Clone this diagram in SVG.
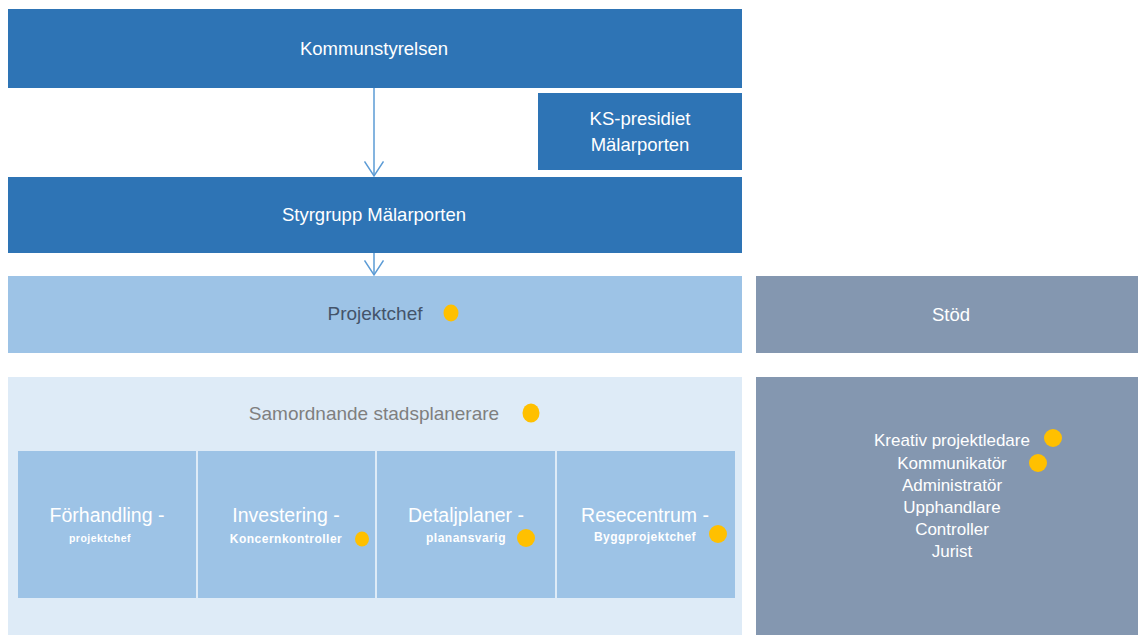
<svg xmlns="http://www.w3.org/2000/svg" width="1138" height="635" viewBox="0 0 1138 635">
<defs>
<style>
.dark{fill:#2E74B5}
.mid{fill:#9DC3E6}
.light{fill:#DEEBF7}
.grey{fill:#8497B0}
.dot{fill:#FFC000}
text{font-family:"Liberation Sans",Arial,sans-serif;text-anchor:middle}
.w{fill:#FFFFFF;font-size:18.5px}
.t{fill:#FFFFFF;font-size:19.5px}
.s{fill:#FFFFFF;font-size:12px;font-weight:bold;letter-spacing:0.5px}
.l{fill:#FFFFFF;font-size:17px}
</style>
<marker id="arr" viewBox="0 0 17 20" refX="15.5" refY="10" markerWidth="17" markerHeight="20" markerUnits="userSpaceOnUse" orient="auto">
<path d="M1,0.5 L15.5,10 L1,19.5" fill="none" stroke="#5B9BD5" stroke-width="1.5"/>
</marker>
</defs>
<rect width="1138" height="635" fill="#FFFFFF"/>
<g id="kommunstyrelsen">
<rect class="dark" x="8" y="9" width="734" height="79"/>
<text class="w" x="374" y="55">Kommunstyrelsen</text>
</g>
<g id="ks-presidiet">
<rect class="dark" x="538" y="93" width="204" height="77"/>
<text class="w" x="640" y="125">KS-presidiet</text>
<text class="w" x="640" y="151">Mälarporten</text>
</g>
<g id="styrgrupp">
<rect class="dark" x="8" y="177" width="734" height="76"/>
<text class="w" x="374" y="221">Styrgrupp Mälarporten</text>
</g>
<g id="projektchef">
<rect class="mid" x="8" y="276" width="734" height="77"/>
<text x="375" y="320" style="fill:#44546A;font-size:19px">Projektchef</text>
<ellipse class="dot" cx="451" cy="313" rx="7.5" ry="8.5"/>
</g>
<g id="stod">
<rect class="grey" x="756" y="276" width="382" height="77"/>
<text class="w" x="951" y="321">Stöd</text>
</g>
<g id="samordnande">
<rect class="light" x="8" y="377" width="734" height="258"/>
<text x="374" y="420" style="fill:#7F7F7F;font-size:19px">Samordnande stadsplanerare</text>
<ellipse class="dot" cx="531" cy="413" rx="8.5" ry="9.5"/>
</g>
<g id="forhandling">
<rect class="mid" x="18" y="451" width="178" height="147"/>
<text class="t" x="107" y="522">Förhandling -</text>
<text class="s" x="100" y="542" style="font-size:10.5px">projektchef</text>
</g>
<g id="investering">
<rect class="mid" x="198" y="451" width="177" height="147"/>
<text class="t" x="286" y="522">Investering -</text>
<text class="s" x="286" y="543">Koncernkontroller</text>
<ellipse class="dot" cx="362" cy="539" rx="7" ry="7.5"/>
</g>
<g id="detaljplaner">
<rect class="mid" x="377" y="451" width="178" height="147"/>
<text class="t" x="466" y="522">Detaljplaner -</text>
<text class="s" x="466" y="542">planansvarig</text>
<circle class="dot" cx="526" cy="538" r="9"/>
</g>
<g id="resecentrum">
<rect class="mid" x="557" y="451" width="178" height="147"/>
<text class="t" x="645" y="522">Resecentrum  -</text>
<text class="s" x="645" y="541">Byggprojektchef</text>
<circle class="dot" cx="718" cy="534" r="9"/>
</g>
<g id="stod-lista">
<rect class="grey" x="756" y="377" width="382" height="258"/>
<text class="l" x="952" y="446">Kreativ projektledare</text>
<text class="l" x="952" y="469">Kommunikatör</text>
<text class="l" x="952" y="491">Administratör</text>
<text class="l" x="952" y="513">Upphandlare</text>
<text class="l" x="952" y="535">Controller</text>
<text class="l" x="952" y="557">Jurist</text>
<circle class="dot" cx="1053" cy="438" r="9"/>
<circle class="dot" cx="1038" cy="463" r="9"/>
</g>
<g id="connectors" fill="none" stroke="#5B9BD5" stroke-width="1.5">
<line x1="374" y1="88" x2="374" y2="176" marker-end="url(#arr)"/>
<line x1="374" y1="253" x2="374" y2="275" marker-end="url(#arr)"/>
</g>
</svg>
